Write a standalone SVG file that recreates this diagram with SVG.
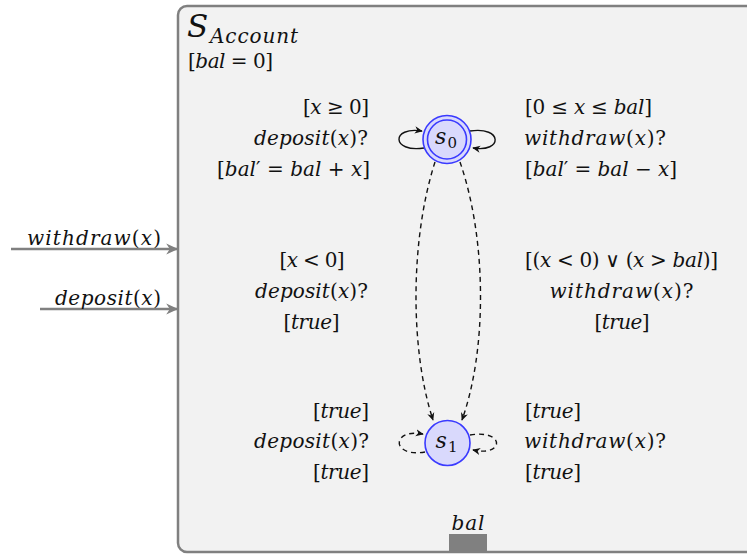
<svg xmlns="http://www.w3.org/2000/svg" width="747" height="554" viewBox="0 0 747 554">
<style>
text{font-family:"DejaVu Serif","Liberation Serif","Times New Roman",serif;font-size:20px;fill:#111}
.i{font-style:italic}
.edge{fill:none;stroke:#111;stroke-width:1.4}
.dash{stroke-dasharray:5 4}
.port{fill:none;stroke:#808080;stroke-width:2.5}
.state{fill:#d9d9fc;stroke:#3a3aff;stroke-width:1.6}
</style>
<defs>
<marker id="arr" viewBox="0 0 10 10" refX="9" refY="5" markerWidth="8" markerHeight="8" markerUnits="userSpaceOnUse" orient="auto">
<path d="M0,0.5 L10,5 L0,9.5 L3,5 z" fill="#111"/>
</marker>
<marker id="garr" viewBox="0 0 10 10" refX="9" refY="5" markerWidth="13" markerHeight="12" markerUnits="userSpaceOnUse" orient="auto">
<path d="M0,0.5 L10,5 L0,9.5 L3,5 z" fill="#808080"/>
</marker>
</defs>
<rect width="747" height="554" fill="#ffffff"/>
<g id="account">
<rect x="178" y="6" width="620" height="546" rx="9" fill="#f2f2f2" stroke="#808080" stroke-width="2.5"/>
<text x="187" y="37" class="i" style="font-size:31px">S</text>
<text x="210" y="43" class="i" style="font-size:20px" textLength="88">Account</text>
<text x="188" y="68" style="font-size:20px" textLength="85">[<tspan class="i">bal</tspan> = 0]</text>
<rect x="449" y="534" width="38" height="18" fill="#808080"/>
<text x="468" y="530" class="i" text-anchor="middle" textLength="33">bal</text>
</g>
<g id="connectors">
<path class="edge" d="M424,148 C391,153 391,126 422,131" marker-end="url(#arr)"/>
<path class="edge" d="M470,131 C503,126 503,153 473,148" marker-end="url(#arr)"/>
<path class="edge dash" d="M435,162 C410,240 410,350 433,420" marker-end="url(#arr)"/>
<path class="edge dash" d="M460,162 C487,240 487,350 462,420" marker-end="url(#arr)"/>
<path class="edge dash" d="M425,452 C391,458 391,428 423,434" marker-end="url(#arr)"/>
<path class="edge dash" d="M470,435 C505,429 505,457 473,450" marker-end="url(#arr)"/>
<path class="port" d="M11,249 L177,249" marker-end="url(#garr)"/>
<path class="port" d="M40,309 L177,309" marker-end="url(#garr)"/>
</g>
<g id="port-labels">
<text x="161" y="245" class="i" text-anchor="end" textLength="134">withdraw<tspan font-style="normal">(</tspan>x<tspan font-style="normal">)</tspan></text>
<text x="161" y="305" class="i" text-anchor="end" textLength="106">deposit<tspan font-style="normal">(</tspan>x<tspan font-style="normal">)</tspan></text>
</g>
<g id="s0">
<circle class="state" cx="447" cy="139.5" r="24"/>
<circle cx="447" cy="139.5" r="19.5" fill="none" stroke="#3a3aff" stroke-width="1.6"/>
<text x="435" y="144" class="i" style="font-size:22px">s</text>
<text x="447.5" y="148" style="font-size:15px">0</text>
</g>
<g id="s1">
<circle class="state" cx="447.5" cy="443" r="22.5"/>
<text x="435.5" y="448" class="i" style="font-size:22px">s</text>
<text x="448" y="452" style="font-size:15px">1</text>
</g>
<g id="label-s0-deposit" text-anchor="end">
<text x="369" y="114" textLength="66">[<tspan class="i">x</tspan> ≥ 0]</text>
<text x="368" y="145" textLength="114"><tspan class="i">deposit</tspan>(<tspan class="i">x</tspan>)?</text>
<text x="370" y="176" textLength="153">[<tspan class="i">bal</tspan>′ = <tspan class="i">bal</tspan> + <tspan class="i">x</tspan>]</text>
</g>
<g id="label-s0-withdraw">
<text x="525" y="114" textLength="127">[0 ≤ <tspan class="i">x</tspan> ≤ <tspan class="i">bal</tspan>]</text>
<text x="524" y="145" textLength="142"><tspan class="i">withdraw</tspan>(<tspan class="i">x</tspan>)?</text>
<text x="525" y="176" textLength="152">[<tspan class="i">bal</tspan>′ = <tspan class="i">bal</tspan> − <tspan class="i">x</tspan>]</text>
</g>
<g id="label-dep-fail" text-anchor="middle">
<text x="312" y="267" textLength="65">[<tspan class="i">x</tspan> &lt; 0]</text>
<text x="311.5" y="298" textLength="113"><tspan class="i">deposit</tspan>(<tspan class="i">x</tspan>)?</text>
<text x="311.5" y="329" textLength="56">[<tspan class="i">true</tspan>]</text>
</g>
<g id="label-wd-fail" text-anchor="middle">
<text x="621.5" y="267" textLength="193">[(<tspan class="i">x</tspan> &lt; 0) ∨ (<tspan class="i">x</tspan> &gt; <tspan class="i">bal</tspan>)]</text>
<text x="621.5" y="298" textLength="144"><tspan class="i">withdraw</tspan>(<tspan class="i">x</tspan>)?</text>
<text x="622" y="329" textLength="55">[<tspan class="i">true</tspan>]</text>
</g>
<g id="label-s1-deposit" text-anchor="end">
<text x="369" y="418" textLength="56">[<tspan class="i">true</tspan>]</text>
<text x="369" y="448" textLength="115"><tspan class="i">deposit</tspan>(<tspan class="i">x</tspan>)?</text>
<text x="369" y="479" textLength="56">[<tspan class="i">true</tspan>]</text>
</g>
<g id="label-s1-withdraw">
<text x="525" y="418" textLength="56">[<tspan class="i">true</tspan>]</text>
<text x="524" y="448" textLength="142"><tspan class="i">withdraw</tspan>(<tspan class="i">x</tspan>)?</text>
<text x="525" y="479" textLength="56">[<tspan class="i">true</tspan>]</text>
</g>
</svg>
